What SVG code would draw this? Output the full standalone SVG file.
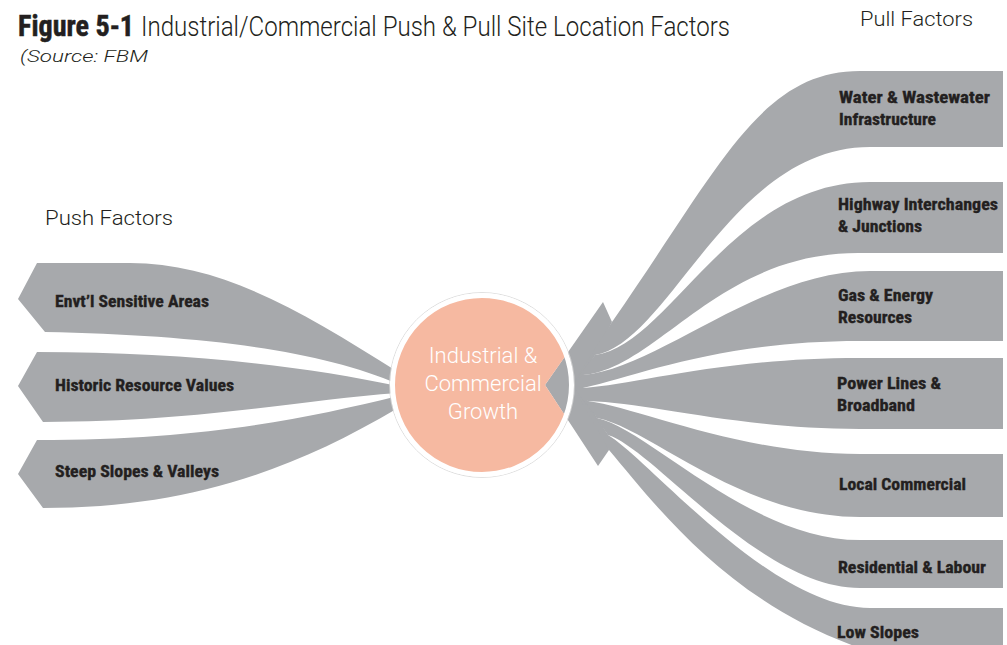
<svg xmlns="http://www.w3.org/2000/svg" width="1007" height="645" viewBox="0 0 1007 645">
<style>
.rib{fill:#A7A9AC}
.lbl{font-family:'Liberation Sans Narrow','Roboto Condensed','Liberation Sans',Arial,sans-serif;font-weight:700;font-size:17px;fill:#231F20;stroke:#231F20;stroke-width:0.35px}
.light{font-family:Roboto,'Liberation Sans',sans-serif;font-weight:300;fill:#231F20}
.ctr{font-family:Roboto,'Liberation Sans',sans-serif;font-weight:300;font-size:22px;fill:#FFFFFF;text-anchor:middle}
</style>
<rect width="1007" height="645" fill="#FFFFFF"/>
<g id="title">
<text x="18" y="36" font-family="'Liberation Sans Narrow','Roboto Condensed','Liberation Sans',sans-serif" font-weight="700" font-size="29" fill="#231F20" stroke="#231F20" stroke-width="0.5" textLength="116" lengthAdjust="spacingAndGlyphs">Figure 5-1</text>
<text class="light" x="141" y="36" font-size="28" textLength="589" lengthAdjust="spacingAndGlyphs">Industrial/Commercial Push &amp; Pull Site Location Factors</text>
<text class="light" x="20" y="62" font-size="17" font-style="italic" textLength="128" lengthAdjust="spacingAndGlyphs">(Source: FBM</text>
</g>
<g id="push-heading"><text class="light" x="45" y="225" font-size="21" textLength="128" lengthAdjust="spacingAndGlyphs">Push Factors</text></g>
<g id="pull-heading"><text class="light" x="860" y="26" font-size="20" textLength="113" lengthAdjust="spacingAndGlyphs">Pull Factors</text></g>
<g id="connectors">
<path id="push-envt" class="rib" d="M18,299 L37,263 L130,263 C220,263 300,310 398,372 L398,384 C320,350 200,335 45,332 Z"/>
<path id="push-historic" class="rib" d="M18,386 L37,352 C180,352 300,365 398,386 L398,393 C300,400 200,422 43,422 Z"/>
<path id="push-steep" class="rib" d="M18,474 L37,440 C200,440 300,420 398,396 L398,408 C285,475 180,508 43,508 Z"/>
<path id="pull-head" class="rib" d="M545,385 L603,302 L612,322 L595,355 L583,375 L583,388 L588,401 L597,418 L608,435 L609,450 L598,466 Z"/>
<path id="pull-water" class="rib" d="M612,322 C720,167 760,71 860,71 L1003,71 L1003,147 L870,147 C730,147 670,342.5 595,355 L572,385 Z"/>
<path id="pull-highway" class="rib" d="M595,355 C670,345 730,182 870,182 L1003,182 L1003,253 L858,253 C718,253 658,368 583,375 L572,385 Z"/>
<path id="pull-gas" class="rib" d="M583,375 C658,369 760,271 870,271 L1003,271 L1003,341 L860,341 C720,341 640,375 583,388 L572,385 Z"/>
<path id="pull-power" class="rib" d="M583,388 C640,384 720,358 860,358 L1003,358 L1003,429 L860,429 C740,429 650,403 588,401 L572,385 Z"/>
<path id="pull-local" class="rib" d="M588,401 C640,408 740,454 860,454 L1003,454 L1003,517 L860,517 C740,517 650,428 597,418 L572,385 Z"/>
<path id="pull-residential" class="rib" d="M597,418 C650,430 750,540 860,540 L1003,540 L1003,588 L860,588 C760,588 655,450 608,435 L572,385 Z"/>
<path id="pull-low" class="rib" d="M608,435 C650,460 770,608 870,608 L1003,608 L1003,690 L900,660 C740,620 660,510 609,450 L572,385 Z"/>
</g>
<g id="center">
<circle cx="482" cy="385" r="92.4" fill="none" stroke="#D4D4D4" stroke-width="0.8"/>
<path d="M565.9,355.2 A89,89 0 1 0 565.4,416.1 L545,385 Z" fill="#F6B9A1"/>
<circle cx="482" cy="385" r="89.5" fill="none" stroke="#FFFFFF" stroke-width="5"/>
<text class="ctr" x="483" y="363">Industrial &amp;</text>
<text class="ctr" x="483" y="391">Commercial</text>
<text class="ctr" x="483" y="419">Growth</text>
</g>
<g id="node-envt"><text class="lbl" x="55" y="307" textLength="154" lengthAdjust="spacingAndGlyphs">Envt’l Sensitive Areas</text></g>
<g id="node-historic"><text class="lbl" x="55" y="391" textLength="179" lengthAdjust="spacingAndGlyphs">Historic Resource Values</text></g>
<g id="node-steep"><text class="lbl" x="55" y="477" textLength="164" lengthAdjust="spacingAndGlyphs">Steep Slopes &amp; Valleys</text></g>
<g id="node-water">
<text class="lbl" x="839" y="103" textLength="151" lengthAdjust="spacingAndGlyphs">Water &amp; Wastewater</text>
<text class="lbl" x="839" y="125" textLength="97" lengthAdjust="spacingAndGlyphs">Infrastructure</text>
</g>
<g id="node-highway">
<text class="lbl" x="838" y="210" textLength="160" lengthAdjust="spacingAndGlyphs">Highway Interchanges</text>
<text class="lbl" x="838" y="232" textLength="84" lengthAdjust="spacingAndGlyphs">&amp; Junctions</text>
</g>
<g id="node-gas">
<text class="lbl" x="838" y="301" textLength="95" lengthAdjust="spacingAndGlyphs">Gas &amp; Energy</text>
<text class="lbl" x="838" y="323" textLength="74" lengthAdjust="spacingAndGlyphs">Resources</text>
</g>
<g id="node-power">
<text class="lbl" x="837" y="389" textLength="104" lengthAdjust="spacingAndGlyphs">Power Lines &amp;</text>
<text class="lbl" x="837" y="411" textLength="78" lengthAdjust="spacingAndGlyphs">Broadband</text>
</g>
<g id="node-local"><text class="lbl" x="839" y="490" textLength="127" lengthAdjust="spacingAndGlyphs">Local Commercial</text></g>
<g id="node-residential"><text class="lbl" x="838" y="573" textLength="148" lengthAdjust="spacingAndGlyphs">Residential &amp; Labour</text></g>
<g id="node-low"><text class="lbl" x="837" y="638" textLength="82" lengthAdjust="spacingAndGlyphs">Low Slopes</text></g>
</svg>
